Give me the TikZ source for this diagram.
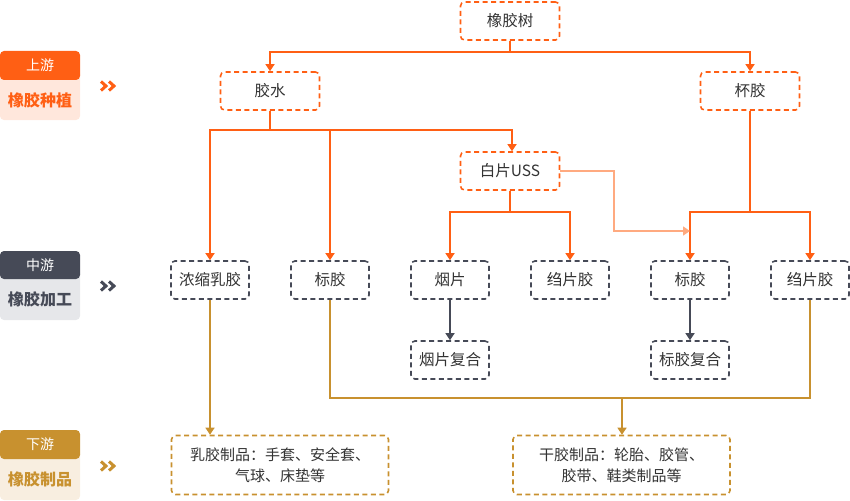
\documentclass[tikz,border=0pt]{standalone}
\usepackage{fontspec}
\setmainfont{Noto Sans CJK SC}
\usetikzlibrary{arrows.meta}
\definecolor{org}{HTML}{FF5F14}
\definecolor{orglt}{HTML}{FFE7DC}
\definecolor{orgpale}{HTML}{FFAA80}
\definecolor{dgray}{HTML}{464A57}
\definecolor{lgray}{HTML}{E6E7EA}
\definecolor{gold}{HTML}{C8912F}
\definecolor{cream}{HTML}{F8EEE0}
\definecolor{txt}{HTML}{333333}
\tikzset{
  box/.style={draw, line width=1.6pt, dash pattern=on 5pt off 3.5pt, rounded corners=4pt, minimum height=38pt, text=txt, font=\fontsize{15.5}{18}\selectfont, inner sep=0pt},
  obox/.style={box, draw=org, minimum width=99pt},
  gbox/.style={box, draw=dgray, minimum width=78pt},
  ybox/.style={box, draw=gold, minimum width=217pt, minimum height=59pt, align=center, font=\fontsize{15}{21}\selectfont},
  oline/.style={draw=org, line width=1.5pt},
  gline/.style={draw=dgray, line width=1.5pt},
  yline/.style={draw=gold, line width=1.5pt},
  tip/.style={-{Triangle[width=9pt,length=7pt]}},
  tag/.style={rounded corners=4pt, minimum width=80pt, text=white, font=\fontsize{14}{16}\selectfont, inner sep=0pt},
  sub/.style={minimum width=80pt, font=\bfseries\fontsize{16}{18}\selectfont, inner sep=0pt},
  chev/.style={line width=3pt, line cap=butt, line join=miter}
}
\begin{document}
\begin{tikzpicture}[x=1pt,y=-1pt]
\useasboundingbox (0,0) rectangle (850,500);
% left labels
\fill[orglt, rounded corners=4pt] (0,70) rectangle (80,120);
\fill[org, rounded corners=4pt] (0,51) rectangle (80,80);
\node[tag] (t1) at (40,65.5) {上游};
\node[sub, text=org] (s1) at (40,100) {橡胶种植};
\fill[lgray, rounded corners=4pt] (0,270) rectangle (80,320);
\fill[dgray, rounded corners=4pt] (0,251) rectangle (80,279);
\node[tag] (t2) at (40,265) {中游};
\node[sub, text=dgray] (s2) at (40,299.5) {橡胶加工};
\fill[cream, rounded corners=4pt] (0,450) rectangle (80,500);
\fill[gold, rounded corners=4pt] (0,430) rectangle (80,459);
\node[tag] (t3) at (40,444.5) {下游};
\node[sub, text=gold] (s3) at (40,479.5) {橡胶制品};
% chevrons
\foreach \yy/\cc in {86/org,286/dgray,466/gold}{
  \draw[chev,\cc] (101,\yy-4.5) -- (106,\yy) -- (101,\yy+4.5);
  \draw[chev,\cc] (109,\yy-4.5) -- (114,\yy) -- (109,\yy+4.5);
}
% nodes
\node[obox] (tree) at (510,21) {橡胶树};
\node[obox] (jiao) at (270,91) {胶水};
\node[obox] (bei) at (750,91) {杯胶};
\node[obox] (uss) at (510,171) {白片USS};
\node[gbox] (nong) at (210,280) {浓缩乳胶};
\node[gbox] (biao1) at (330,280) {标胶};
\node[gbox] (yan) at (450,280) {烟片};
\node[gbox] (zhou1) at (570,280) {绉片胶};
\node[gbox] (biao2) at (690,280) {标胶};
\node[gbox] (zhou2) at (810,280) {绉片胶};
\node[gbox] (yanfh) at (450,360) {烟片复合};
\node[gbox] (biaofh) at (690,360) {标胶复合};
\node[ybox] (ru) at (280,465) {乳胶制品：手套、安全套、\\气球、床垫等};
\node[ybox] (gan) at (621.5,465) {干胶制品：轮胎、胶管、\\胶带、鞋类制品等};
% coordinates
\coordinate (b1) at (510,52);
\coordinate (b2) at (270,130);
\coordinate (b3) at (510,212);
\coordinate (b4) at (750,212);
\coordinate (b5) at (622,398);
% top level
\draw[oline] (tree.south) -- (b1);
\draw[oline,tip] (b1) -| (jiao.north);
\draw[oline,tip] (b1) -| (bei.north);
% from 胶水
\draw[oline] (jiao.south) -- (b2);
\draw[oline,tip] (b2) -| (nong.north);
\draw[oline,tip] (b2) -| (biao1.north);
\draw[oline,tip] (b2) -| ([xshift=2pt]uss.north);
% from USS
\draw[oline] (uss.south) -- (b3);
\draw[oline,tip] (b3) -| (yan.north);
\draw[oline,tip] (b3) -| (zhou1.north);
% from 杯胶
\draw[oline] (bei.south) -- (b4);
\draw[oline,tip] (b4) -| (biao2.north);
\draw[oline,tip] (b4) -| (zhou2.north);
% pale link
\coordinate (p1) at (614,171);
\coordinate (p2) at (614,231);
\coordinate (p3) at (690,231);
\draw[draw=orgpale, line width=1.5pt, -{Triangle[width=9pt,length=7pt]}] (uss.east) -- (p1) -- (p2) -- (p3);
% gray
\draw[gline,tip] (yan.south) -- (yanfh.north);
\draw[gline,tip] (biao2.south) -- (biaofh.north);
% gold
\draw[yline,tip] (nong.south) -- (nong.south |- ru.north);
\draw[yline] (biao1.south) |- (b5) -| (zhou2.south);
\draw[yline,tip] (b5) -- (b5 |- gan.north);
\end{tikzpicture}
\end{document}
